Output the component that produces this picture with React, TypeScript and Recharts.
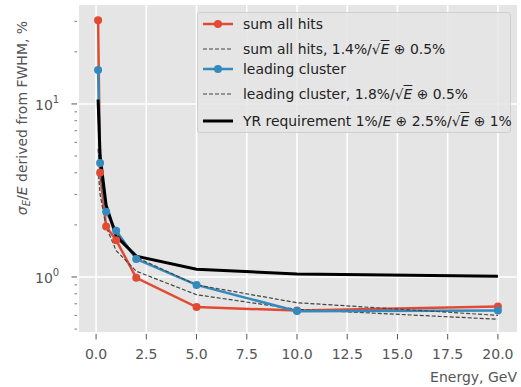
import React from "react";
import { CartesianGrid, Line, LineChart, XAxis, YAxis } from "recharts";

// beam energies, GeV
const energies = [0.1, 0.2, 0.5, 1, 2, 5, 10, 20];

// sigma_E/E in %
const sumAllHits = [30.5, 4.0, 1.96, 1.63, 0.99, 0.67, 0.64, 0.675];
const sumAllHitsFit = [4.2, 3.0, 1.95, 1.42, 1.08, 0.79, 0.65, 0.57];
const leadingCluster = [15.7, 4.55, 2.38, 1.85, 1.27, 0.9, 0.635, 0.64];
const leadingClusterFit = [5.5, 3.9, 2.5, 1.8, 1.3, 0.9, 0.71, 0.6];
const yrRequirement = [10.6, 5.0, 2.6, 1.72, 1.32, 1.11, 1.04, 1.01];

const xTicks = [0, 2.5, 5, 7.5, 10, 12.5, 15, 17.5, 20];
const yMajor = [1, 10];
const yMinor = [0.5, 0.6, 0.7, 0.8, 0.9, 2, 3, 4, 5, 6, 7, 8, 9, 20, 30];

const data = energies.map((e, i) => ({
  e,
  sum: sumAllHits[i],
  sumFit: sumAllHitsFit[i],
  lead: leadingCluster[i],
  leadFit: leadingClusterFit[i],
  yr: yrRequirement[i],
}));

const RED = "#E24A33";
const BLUE = "#348ABD";
const TICK = "#555555";
const FONT = "'DejaVu Sans', sans-serif";

const Sqrt = () => (
  <span>
    √<span style={{ textDecoration: "overline", fontStyle: "italic" }}>E</span>
  </span>
);

const legendRows = [
  { kind: "marker", color: RED, label: <>sum all hits</> },
  { kind: "dash", color: "#444", label: <>sum all hits, 1.4%/<Sqrt /> ⊕ 0.5%</> },
  { kind: "marker", color: BLUE, label: <>leading cluster</> },
  { kind: "dash", color: "#444", label: <>leading cluster, 1.8%/<Sqrt /> ⊕ 0.5%</> },
  {
    kind: "solid",
    color: "#000",
    label: (
      <>
        YR requirement 1%/<i>E</i> ⊕ 2.5%/<Sqrt /> ⊕ 1%
      </>
    ),
  },
];

function LegendBox() {
  const rowCenters = [11, 36, 56, 81, 108];
  return (
    <div
      style={{
        position: "absolute",
        left: 197,
        top: 12,
        width: 314,
        height: 121,
        boxSizing: "border-box",
        background: "rgba(229,229,229,0.85)",
        border: "1px solid #cfcfcf",
        borderRadius: 3,
        fontFamily: FONT,
        fontSize: 13.9,
        color: "#222",
      }}
    >
      {legendRows.map((r, i) => (
        <div
          key={i}
          style={{
            position: "absolute",
            left: 0,
            top: rowCenters[i] - 11,
            height: 22,
            display: "flex",
            alignItems: "center",
            whiteSpace: "nowrap",
          }}
        >
          <svg width={40} height={22} style={{ marginLeft: 4 }}>
            <line
              x1={1}
              x2={31}
              y1={11}
              y2={11}
              stroke={r.color}
              strokeWidth={r.kind === "dash" ? 1.2 : r.kind === "solid" ? 3 : 2.5}
              strokeDasharray={r.kind === "dash" ? "4 2" : undefined}
            />
            {r.kind === "marker" && <circle cx={16} cy={11} r={4} fill={r.color} />}
          </svg>
          <span style={{ marginLeft: 1 }}>{r.label}</span>
        </div>
      ))}
    </div>
  );
}

const XTick = (props: any) => {
  const { x, y, payload } = props;
  return (
    <g>
      <line x1={x} x2={x} y1={y + 2} y2={y + 7.5} stroke={TICK} strokeWidth={1} />
      <text x={x} y={y + 27} textAnchor="middle" fill={TICK} fontSize={14} fontFamily={FONT}>
        {Number(payload.value).toFixed(1)}
      </text>
    </g>
  );
};

const YTick = (props: any) => {
  const { x, y, payload } = props;
  const v = payload.value;
  const major = yMajor.includes(v);
  if (!major) {
    return <line x1={x - 4.5} x2={x - 2} y1={y} y2={y} stroke={TICK} strokeWidth={0.8} />;
  }
  return (
    <g>
      <line x1={x - 7.5} x2={x - 2} y1={y} y2={y} stroke={TICK} strokeWidth={1} />
      <text x={x - 44} y={y + 6} textAnchor="start" fill={TICK} fontSize={14} fontFamily={FONT}>
        10
        <tspan dy={-7} fontSize={10}>
          {v === 1 ? "0" : "1"}
        </tspan>
      </text>
    </g>
  );
};

export default function App() {
  return (
    <div style={{ position: "absolute", left: 0, top: 0, width: 521, height: 387 }}>
      <LineChart width={521} height={387} data={data} margin={{ top: 5, right: 4, bottom: 0, left: 0 }}>
        <CartesianGrid
          fill="#E5E5E5"
          stroke="#ffffff"
          strokeWidth={1.6}
          horizontalValues={yMajor}
          verticalValues={xTicks}
        />
        <XAxis
          dataKey="e"
          type="number"
          domain={[-0.85, 20.95]}
          ticks={xTicks}
          height={55}
          axisLine={false}
          tickLine={false}
          tickSize={0}
          tickMargin={0}
          tick={<XTick />}
          interval={0}
        />
        <YAxis
          type="number"
          scale="log"
          domain={[0.481, 37.3]}
          allowDataOverflow
          ticks={[...yMinor, ...yMajor].sort((a, b) => a - b)}
          width={79}
          axisLine={false}
          tickLine={false}
          tickSize={0}
          tickMargin={0}
          tick={<YTick />}
          interval={0}
        />
        <Line dataKey="sum" stroke={RED} strokeWidth={2.5} dot={{ r: 4, fill: RED, stroke: RED, strokeWidth: 0 }} isAnimationActive={false} />
        <Line dataKey="sumFit" stroke="#444" strokeWidth={1.2} strokeDasharray="4 2" dot={false} isAnimationActive={false} />
        <Line dataKey="lead" stroke={BLUE} strokeWidth={2.5} dot={{ r: 4, fill: BLUE, stroke: BLUE, strokeWidth: 0 }} isAnimationActive={false} />
        <Line dataKey="leadFit" stroke="#444" strokeWidth={1.2} strokeDasharray="4 2" dot={false} isAnimationActive={false} />
        <Line dataKey="yr" stroke="#000" strokeWidth={3} dot={false} isAnimationActive={false} />
        <text x={517} y={382} textAnchor="end" fill={TICK} fontSize={14} fontFamily={FONT}>
          Energy, GeV
        </text>
        <text
          x={27}
          y={118}
          transform="rotate(-90 27 118)"
          textAnchor="middle"
          fill={TICK}
          fontSize={14}
          fontFamily={FONT}
        >
          <tspan fontStyle="italic">σ</tspan>
          <tspan fontStyle="italic" fontSize={10} dy={3}>E</tspan>
          <tspan dy={-3}>/</tspan>
          <tspan fontStyle="italic">E</tspan>
          <tspan> derived from FWHM, %</tspan>
        </text>
      </LineChart>
      <LegendBox />
    </div>
  );
}
